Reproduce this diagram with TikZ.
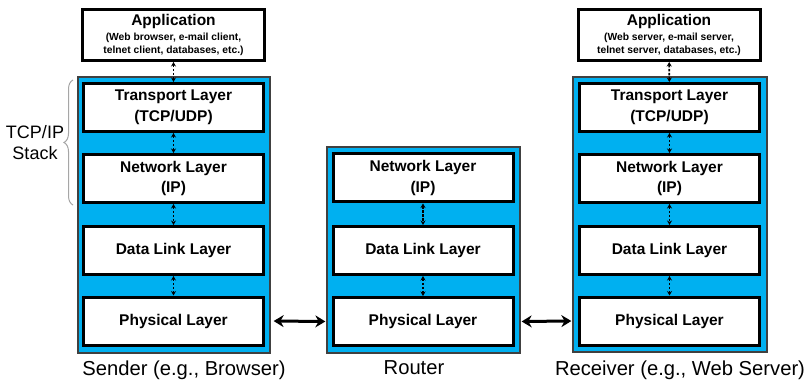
\documentclass[tikz,border=0pt]{standalone}
\usepackage{fontspec}
\setmainfont{Liberation Sans}
\usetikzlibrary{arrows.meta,decorations.pathreplacing}
\definecolor{stackblue}{RGB}{0,176,240}
\begin{document}
\begin{tikzpicture}[x=1pt,y=-1pt,
  layer/.style={draw=black, line width=3pt, fill=white, minimum width=180pt, minimum height=48pt, inner sep=0pt, font=\fontsize{15.5}{20.5}\selectfont\bfseries, align=center},
  app/.style={layer, minimum width=182pt, minimum height=51pt, font=\fontsize{10.3}{13.5}\selectfont\bfseries},
  stackbg/.style={draw=black!75, line width=1.3pt, fill=stackblue, inner sep=0pt},
  link/.style={dash pattern=on 2.5pt off 1.5pt, line width=1.6pt, {Stealth[length=4.5pt,width=5pt]}-{Stealth[length=4.5pt,width=5pt]}},
  wire/.style={line width=3pt, {Stealth[length=10pt,width=12pt]}-{Stealth[length=10pt,width=12pt]}},
  lbl/.style={font=\fontsize{20.2}{23}\selectfont, inner sep=0pt},
  bracestyle/.style={draw=black!35, line width=1pt, decorate, decoration={brace, amplitude=9pt}}
]
\useasboundingbox (0,0) rectangle (808,382);
\fill[white] (0,0) rectangle (808,382);

% backgrounds
\node[stackbg, minimum width=192pt, minimum height=276pt] (sbg) at (174,215) {};
\node[stackbg, minimum width=193pt, minimum height=206pt] (rbg) at (423.5,250) {};
\node[stackbg, minimum width=194pt, minimum height=275pt] (cbg) at (670,214.5) {};

% sender
\node[app] (sapp) at (173.5,35) {{\fontsize{15.5}{16}\selectfont Application}\\[1.5pt](Web browser, e-mail client,\\telnet client, databases, etc.)};
\node[layer] (strans) at (173.5,107.5) {Transport Layer\\(TCP/UDP)};
\node[layer] (snet) at (173.5,178.5) {Network Layer\\(IP)};
\node[layer] (sdl) at (173.5,250.5) {Data Link Layer};
\node[layer] (sphy) at (173.5,321) {Physical Layer};

% router
\node[layer] (rnet) at (423,178) {Network Layer\\(IP)};
\node[layer] (rdl) at (423,250.5) {Data Link Layer};
\node[layer] (rphy) at (423,321.5) {Physical Layer};

% receiver
\node[app] (capp) at (669,35) {{\fontsize{15.5}{16}\selectfont Application}\\[1.5pt](Web server, e-mail server,\\telnet server, databases, etc.)};
\node[layer] (ctrans) at (669.5,107.5) {Transport Layer\\(TCP/UDP)};
\node[layer] (cnet) at (669.5,178.5) {Network Layer\\(IP)};
\node[layer] (cdl) at (669.5,250.5) {Data Link Layer};
\node[layer] (cphy) at (669.5,321) {Physical Layer};

% vertical links
\draw[link] (sapp) -- (strans);
\draw[link] (strans) -- (snet);
\draw[link] (snet) -- (sdl);
\draw[link] (sdl) -- (sphy);
\draw[link] (rnet) -- (rdl);
\draw[link] (rdl) -- (rphy);
\draw[link] (capp) -- (ctrans);
\draw[link] (ctrans) -- (cnet);
\draw[link] (cnet) -- (cdl);
\draw[link] (cdl) -- (cphy);

% physical links
\draw[wire, shorten <=3pt, shorten >=1pt] (sbg.east |- sphy) -- (rbg.west |- rphy);
\draw[wire, shorten <=1pt, shorten >=1pt] (rbg.east |- rphy) -- (cbg.west |- cphy);

% brace and stack label
\coordinate (btop) at (73,80);
\coordinate (bbot) at (73,205);
\draw[bracestyle] (bbot) -- (btop);
\node[font=\fontsize{18}{21}\selectfont, align=center, inner sep=0pt] (stk) at (35,143) {TCP/IP\\Stack};

% labels
\node[lbl] (slabel) at (184,370) {Sender (e.g., Browser)};
\node[lbl] (rlabel) at (414,368) {Router};
\node[lbl] (clabel) at (680,370) {Receiver (e.g., Web Server)};
\end{tikzpicture}
\end{document}
